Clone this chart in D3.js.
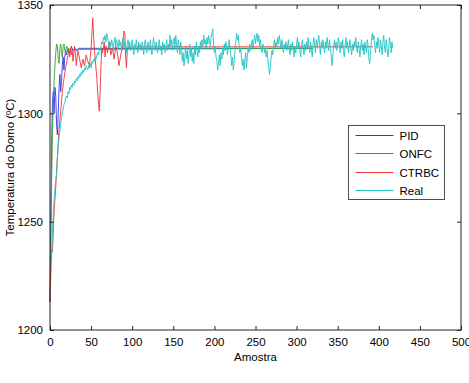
<!DOCTYPE html>
<html>
<head>
<meta charset="utf-8">
<script src="https://cdn.jsdelivr.net/npm/d3@7"></script>
<style>
  body { margin: 0; background: #fff; }
  svg { display: block; font-family: "Liberation Sans", Arial, sans-serif; }
</style>
</head>
<body>
<div id="chart"></div>
<script>
// series data (x = Amostra, y = temperatura)
const pidX = [0,1,2,3,4,5,6,7,8,9,10,11,12,13,14,15,16,17,18,19,20,22,24,26,28,30,32,35,320];
const pidY = [1213,1250,1285,1305,1310,1300,1312,1308,1295,1290,1300,1312,1318,1310,1315,1322,1326,1320,1326,1329,1327,1330,1328,1331,1329,1330,1329,1330,1330];

const onfcX = [0,1,2,3,4,5,6,7,8,9,10,11,12,13,14,15,16,17,18,19,20,22,24,320];
const onfcY = [1213,1240,1270,1292,1305,1315,1322,1328,1332,1331,1325,1323,1330,1332,1328,1326,1331,1332,1329,1328,1331,1330,1329.5,1330];

const ctrbcX = [0,1,2,3,4,5,7,9,11,13,15,17,19,21,23,24,25,26,27,28,29,30,31,32,33,34,36,38,40,42,44,46,48,50,52,53,54,55,57,59,60,61,62,63,64,66,67,68,70,72,74,76,78,80,82,84,86,88,90,91,92,93,94,95,96,100,393];
const ctrbcY = [1213,1225,1237,1236,1245,1255,1266,1280,1292,1301,1310,1316,1321,1325,1329,1326,1330,1327,1329,1324,1328,1331,1327,1322,1326,1329,1325,1321,1325,1322,1327,1324,1322,1330,1344,1336,1330,1325,1316,1304,1301,1310,1322,1330,1328,1333,1326,1331,1328,1333,1327,1330,1325,1331,1328,1322,1327,1330,1338,1337,1326,1321,1329,1331,1330.5,1330.7,1330.7];

// Real: one value per sample, 0..417
const realY = [
  1233,1236,1234,1245,1253,1260,1265,1269,1272,1279,1285,1289,1292,1295,1298,1300,1302,1304,1305,1307,
  1308,1307,1310,1309,1312,1311,1313,1312,1314,1313,1315,1314,1316,1315,1317,1316,1318,1317,1319,1318,
  1320,1319,1321,1320,1322,1321,1320,1322,1321,1323,1321,1324,1323,1325,1324,1326,1325,1327,1328,1327,
  1330,1329,1331,1333,1332,1335,1334,1336,1333,1337,1335,1333,
  1330,1333,1331,1334,1332,1329,1333,1335,1331,1334,1332,1330,1334,1331,1333,1329,1332,1335,1330,1333,
  1331,1328,1332,1334,1330,1333,1329,1331,1334,1330,1327,1332,1330,1334,1331,1328,1333,1330,1332,1329,
  1333,1331,1327,1332,1334,1330,1328,1333,1331,1329,1334,1330,1327,1332,1335,1331,1329,1333,1330,1328,
  1332,1334,1329,1331,1327,1333,1330,1332,1328,1331,1334,1329,1332,1330,1336,1331,1334,1329,1333,1335,
  1330,1336,1332,1328,1334,1331,1327,1333,1329,1324,1328,1322,1326,1331,1325,1329,1323,1327,1332,1326,
  1330,1324,1328,1323,1331,1327,1333,1329,1326,1331,1328,1333,1330,1334,1331,1336,1332,1334,1330,1335,
  1332,1336,1333,1331,1335,1337,1339,1332,1328,1331,1326,1324,1320,1323,1327,1322,1328,1325,1330,1327,
  1332,1329,1333,1330,1327,1331,1334,1330,1327,1322,1326,1320,1324,1329,1333,1337,1334,1336,1331,1328,
  1330,1326,1322,1325,1320,1324,1328,1321,1326,1330,1328,1332,1329,1331,1334,1330,1333,1336,1332,1335,
  1337,1333,1336,1331,1334,1330,1328,1332,1331,1328,1330,1326,1329,1325,1322,1318,1321,1326,1329,1327,
  1331,1334,1330,1333,1331,1335,1332,1336,1333,1330,1334,1331,1328,1332,1330,1333,1329,1331,1334,1330,
  1327,1332,1329,1333,1330,1326,1331,1328,1332,1335,1330,1333,1329,1326,1331,1334,1330,1327,1332,1329,
  1333,1330,1335,1331,1328,1333,1330,1326,1332,1335,1331,1328,1334,1330,1333,1336,1331,1327,1333,1330,
  1334,1331,1328,1333,1330,1335,1332,1329,1334,1330,1327,1322,1326,1331,1334,1330,1333,1329,1332,1335,
  1331,1328,1333,1330,1334,1329,1326,1331,1335,1330,1333,1328,1331,1334,1330,1327,1332,1329,1333,1331,
  1335,1330,1328,1333,1330,1326,1331,1334,1329,1332,1327,1333,1330,1328,1334,1331,1325,1323,1329,1333,
  1337,1334,1336,1331,1328,1333,1330,1335,1332,1328,1334,1331,1327,1333,1336,1330,1328,1334,1331,1326,
  1330,1335,1332,1328,1333,1330
];

const seriesNames = ["PID", "ONFC", "CTRBC", "Real"];
const seriesColors = ["#3333e6", "#33a033", "#ee3333", "#22c4c4"];
const xTicks = [0,50,100,150,200,250,300,350,400,450,500];
const yTicks = [1200,1250,1300,1350];

const width = 469, height = 383;
const margin = {left: 50, right: 8, top: 5, bottom: 53};

const color = d3.scaleOrdinal().domain(seriesNames).range(seriesColors);

const svg = d3.select("#chart").append("svg")
    .attr("width", width).attr("height", height);

const x = d3.scaleLinear().domain([0, 500]).range([margin.left, width - margin.right]);
const y = d3.scaleLinear().domain([1200, 1350]).range([height - margin.bottom, margin.top]);

const toPts = (xs, ys) => xs.map((d, i) => [d, ys[i]]);
const series = [
  {name: "PID", pts: toPts(pidX, pidY)},
  {name: "ONFC", pts: toPts(onfcX, onfcY)},
  {name: "CTRBC", pts: toPts(ctrbcX, ctrbcY)},
  {name: "Real", pts: realY.map((v, i) => [i, v])}
];

const line = d3.line().x(d => x(d[0])).y(d => y(d[1]));

svg.append("g").selectAll("path")
  .data(series)
  .enter().append("path")
    .attr("d", d => line(d.pts))
    .attr("fill", "none")
    .attr("stroke", d => color(d.name))
    .attr("stroke-width", 0.9)
    .attr("stroke-linejoin", "round");

// axes, MATLAB style: ticks inside, on all four sides
const tickLen = 4;
const axisColor = "#222";
function styleAxis(g) {
  g.select(".domain").remove();
  g.selectAll("line").attr("stroke", axisColor);
  g.selectAll("text").attr("fill", "#000").style("font-size", "11.5px");
}

svg.append("g")
  .attr("transform", `translate(0,${y(1200)})`)
  .call(d3.axisBottom(x).tickValues(xTicks).tickSize(-tickLen).tickPadding(8).tickFormat(d3.format("d")))
  .call(styleAxis);
svg.append("g")
  .attr("transform", `translate(0,${y(1350)})`)
  .call(d3.axisTop(x).tickValues(xTicks).tickSize(-tickLen).tickFormat(""))
  .call(styleAxis);
svg.append("g")
  .attr("transform", `translate(${x(0)},0)`)
  .call(d3.axisLeft(y).tickValues(yTicks).tickSize(-tickLen).tickPadding(7).tickFormat(d3.format("d")))
  .call(styleAxis);
svg.append("g")
  .attr("transform", `translate(${x(500)},0)`)
  .call(d3.axisRight(y).tickValues(yTicks).tickSize(-tickLen).tickFormat(""))
  .call(styleAxis);

svg.append("rect")
  .attr("x", x(0)).attr("y", y(1350))
  .attr("width", x(500) - x(0)).attr("height", y(1200) - y(1350))
  .attr("fill", "none").attr("stroke", axisColor).attr("stroke-width", 1);

// axis titles
svg.append("text")
  .attr("x", (x(0) + x(500)) / 2).attr("y", 361)
  .attr("text-anchor", "middle").style("font-size", "11.5px")
  .text("Amostra");
svg.append("text")
  .attr("transform", `translate(14,${(y(1200) + y(1350)) / 2}) rotate(-90)`)
  .attr("text-anchor", "middle").style("font-size", "11.5px")
  .text("Temperatura do Domo (ºC)");

// legend
const leg = svg.append("g").attr("transform", "translate(348.5,125.5)");
leg.append("rect")
  .attr("width", 96).attr("height", 74)
  .attr("fill", "#fff").attr("stroke", axisColor).attr("stroke-width", 0.8);
const item = leg.selectAll("g.item")
  .data(seriesNames)
  .enter().append("g")
    .attr("class", "item")
    .attr("transform", (d, i) => `translate(0,${Math.round(10 + i * 18.3)})`);
item.append("line")
  .attr("x1", 7).attr("x2", 45)
  .attr("stroke", d => color(d)).attr("stroke-width", 1);
item.append("text")
  .attr("x", 51).attr("dy", "0.35em")
  .style("font-size", "11.5px")
  .text(d => d);
</script>
</body>
</html>
